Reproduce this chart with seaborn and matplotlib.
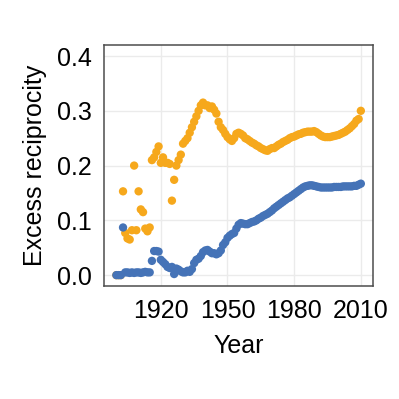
import numpy as np
import pandas as pd
import matplotlib.pyplot as plt
import seaborn as sns

years = list(range(1900, 2011))

# orange series (upper)
orange_vals = [
    0.0, 0.0, 0.0, 0.153, 0.077, 0.067, 0.065, 0.082, 0.2, 0.082,
    0.153, 0.12, 0.115, 0.085, 0.08, 0.087, 0.21, 0.215, 0.225, 0.235,
    0.205, 0.215, 0.205, 0.205, 0.203, 0.136, 0.174, 0.2, 0.21, 0.22,
    0.24, 0.245, 0.25, 0.26, 0.27, 0.28, 0.29, 0.3, 0.31, 0.315,
    0.31, 0.31, 0.305, 0.308, 0.302, 0.295, 0.28, 0.27, 0.265, 0.258,
    0.252, 0.248, 0.245, 0.25, 0.258, 0.26, 0.258, 0.255, 0.25, 0.248,
    0.245, 0.242, 0.24, 0.237, 0.235, 0.232, 0.23, 0.228, 0.227, 0.23,
    0.232, 0.232, 0.235, 0.238, 0.24, 0.243, 0.245, 0.247, 0.25, 0.252,
    0.253, 0.255, 0.257, 0.258, 0.26, 0.261, 0.262, 0.262, 0.262, 0.263,
    0.261, 0.258, 0.255, 0.253, 0.252, 0.252, 0.252, 0.253, 0.254, 0.255,
    0.256, 0.258, 0.26, 0.262, 0.265, 0.268, 0.272, 0.276, 0.282, 0.285,
    0.3,
]

# blue series (lower)
blue_vals = [
    0.0, 0.0, 0.0, 0.087, 0.005, 0.005, 0.004, 0.005, 0.004, 0.005,
    0.005, 0.004, 0.005, 0.006, 0.005, 0.005, 0.026, 0.044, 0.044, 0.043,
    0.028, 0.024, 0.02, 0.015, 0.013, 0.015, 0.002, 0.012, 0.01, 0.007,
    0.005, 0.005, 0.008, 0.006, 0.011, 0.022, 0.028, 0.03, 0.035, 0.042,
    0.045, 0.046, 0.043, 0.04, 0.04, 0.038, 0.04, 0.045, 0.055, 0.06,
    0.068, 0.072, 0.075, 0.077, 0.085, 0.092, 0.095, 0.094, 0.093, 0.093,
    0.095, 0.097, 0.098, 0.1, 0.103, 0.105, 0.108, 0.11, 0.112, 0.115,
    0.118, 0.122, 0.125, 0.128, 0.131, 0.134, 0.137, 0.14, 0.142, 0.145,
    0.148, 0.151, 0.154, 0.157, 0.16, 0.162, 0.163, 0.164, 0.164, 0.163,
    0.162, 0.161, 0.16, 0.16, 0.16, 0.16, 0.16, 0.16, 0.161, 0.161,
    0.161, 0.161, 0.162, 0.162, 0.162, 0.162, 0.162, 0.163, 0.163, 0.165,
    0.167,
]

df = pd.DataFrame({
    "Year": years * 2,
    "value": orange_vals + blue_vals,
    "series": ["orange"] * len(years) + ["blue"] * len(years),
})

sns.set_style("white")
plt.rcParams["font.family"] = ["Liberation Sans", "DejaVu Sans"]

fig = plt.figure(figsize=(3.99, 3.99), dpi=100)
ax = fig.add_axes([0.261, 0.283, 0.674, 0.604])

sns.scatterplot(data=df, x="Year", y="value", hue="series",
                palette={"orange": "#F6A81C", "blue": "#4573B7"},
                s=36, linewidth=0, legend=False, ax=ax, zorder=3)

ax.set_xlim(1894.5, 2015.5)
ax.set_ylim(-0.02, 0.42)
ax.set_xticks([1920, 1950, 1980, 2010])
ax.set_yticks([0.0, 0.1, 0.2, 0.3, 0.4])
ax.set_yticklabels(["0.0", "0.1", "0.2", "0.3", "0.4"])
ax.grid(True, color="#ebebeb", linewidth=1.0, zorder=0)
ax.set_axisbelow(True)
for sp in ax.spines.values():
    sp.set_color("#4d4d4d")
    sp.set_linewidth(1.1)
ax.tick_params(axis="both", direction="out", length=5, width=1,
               color="#4d4d4d", labelsize=18, labelcolor="black", pad=4)
ax.set_xlabel("Year", fontsize=18, labelpad=8, color="black")
ax.set_ylabel("Excess reciprocity", fontsize=18, labelpad=7, color="black")

fig.savefig("out.png", dpi=100)
